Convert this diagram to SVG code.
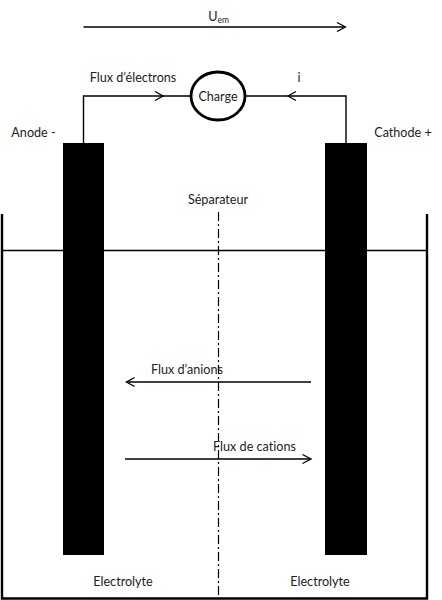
<svg xmlns="http://www.w3.org/2000/svg" width="442" height="600" viewBox="0 0 442 600">
<style>
text{font-family:Lato,"Open Sans",sans-serif;font-size:12.6px;font-variant-ligatures:none;fill:#222;text-anchor:middle}
.l{fill:none;stroke:#000;stroke-width:1.4}
.t{fill:none;stroke:#000;stroke-width:2.4}
.a{fill:none;stroke:#000;stroke-width:1.3}
</style>
<rect width="442" height="600" fill="#fff"/>
<g id="connectors">
<path class="l" d="M83.500 143V96H191M246 96H346V143"/>
<path class="a" d="M155 91.500L163 96L155 100.500M296 91.500L288 96L296 100.500"/>
<path class="l" d="M83.500 27H345"/>
<path class="a" d="M337 22.500L345.500 27L337 31.500"/>
<path class="l" d="M2 250.500H427"/>
<path class="l" d="M311 382H126"/>
<path class="a" d="M134.500 377.500L126.500 382L134.500 386.500"/>
<path class="l" d="M125 459H310.500"/>
<path class="a" d="M302.500 454.500L311 459L302.500 463.500"/>
<path fill="none" stroke="#000" stroke-width="1.200" stroke-dasharray="9 3 2 3" d="M218.500 212V598"/>
</g>
<g id="tank"><path class="t" d="M2 214V598.500H427V214"/></g>
<g id="anode"><rect x="63" y="143" width="41" height="412" fill="#000"/><text x="33.500" y="136.500">Anode -</text></g>
<g id="cathode"><rect x="325" y="143" width="42" height="412" fill="#000"/><text x="403" y="136.500">Cathode +</text></g>
<g id="charge"><ellipse cx="218" cy="96" rx="27" ry="24" fill="#fff" stroke="#000" stroke-width="2.800"/><text x="218" y="100.500">Charge</text></g>
<g id="labels">
<text x="218.500" y="21">U<tspan font-size="8.500" dy="2">em</tspan></text>
<text x="133" y="81.500">Flux d’électrons</text>
<text x="299" y="81.500">i</text>
<text x="218" y="204">Séparateur</text>
<text x="187" y="374">Flux d’anions</text>
<text x="254.500" y="451">Flux de cations</text>
<text x="123" y="586">Electrolyte</text>
<text x="320" y="586">Electrolyte</text>
</g>
</svg>
